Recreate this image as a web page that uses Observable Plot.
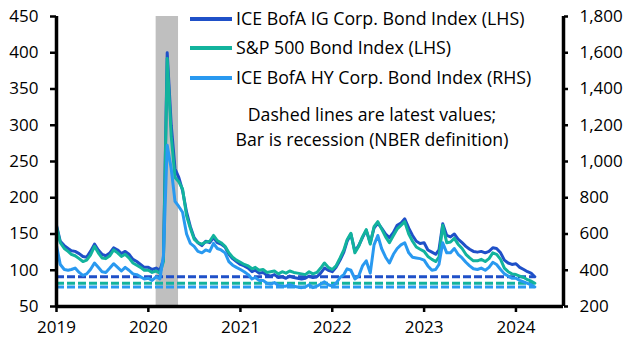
<!DOCTYPE html>
<html><head><meta charset="utf-8">
<script src="https://cdn.jsdelivr.net/npm/d3@7"></script>
<script src="https://cdn.jsdelivr.net/npm/@observablehq/plot@0.6"></script>
<style>
body{margin:0;background:#fff;font-family:"Open Sans",sans-serif;}
#wrap{position:relative;width:628px;height:353px;}
.leg{position:absolute;font-size:17.8px;color:#000;white-space:nowrap;line-height:1;}
.sw{position:absolute;height:4px;width:42px;}
.note{position:absolute;font-size:17.7px;text-align:center;line-height:24.5px;white-space:nowrap;}
</style></head>
<body><div id="wrap"></div>
<script>
const seriesNames = ["ICE BofA IG Corp. Bond Index (LHS)", "S&P 500 Bond Index (LHS)", "ICE BofA HY Corp. Bond Index (RHS)"];
const colors = ["#1f50c8", "#12b39d", "#2999f0"];
// semi-monthly observations (1st and 16th of each month), Jan 2019 - Mar 2024
const igSpread = [
162,140,134,130,127,126,123,119,118,126,136,128,122,120,124,131,128,123,126,122,115,112,108,104,
104,101,103,100,115,400,300,240,228,210,180,160,145,138,134,140,138,145,138,136,132,122,116,112,
108,106,103,98,100,96,97,93,92,94,90,91,89,92,90,89,88,89,92,90,91,96,103,100,
98,104,114,125,140,150,126,134,145,155,138,158,165,158,150,145,152,162,165,171,158,148,140,137,
138,128,125,122,128,164,148,146,150,143,138,133,129,126,125,126,124,126,131,130,124,114,110,108,
109,104,101,98,96,91];
const spSpread = [
160,138,130,126,122,120,116,112,114,121,133,124,117,116,120,128,124,119,122,117,110,107,104,100,
100,97,99,96,112,392,285,228,222,212,175,158,143,138,136,139,140,148,141,138,133,124,118,114,
111,108,106,102,104,100,101,97,98,99,95,98,96,99,97,96,95,94,98,95,97,103,110,104,
101,106,117,128,142,151,124,133,146,156,136,160,167,157,146,138,148,157,162,167,150,140,132,129,
126,119,115,112,118,162,138,139,144,136,130,122,117,113,113,115,112,116,124,122,115,103,98,95,
94,92,90,87,85,82];
const hySpread = [
536,432,404,400,404,412,388,372,380,404,440,416,392,388,412,436,416,396,416,400,380,376,364,352,
356,344,364,352,480,1090,960,780,752,720,600,548,532,504,496,512,504,548,520,512,496,448,428,416,
404,392,376,352,360,344,344,328,324,332,316,312,312,320,312,308,304,308,320,304,312,324,336,320,
312,328,360,376,408,400,352,368,424,452,384,540,592,520,472,440,488,520,540,552,496,472,468,464,
456,424,400,404,432,552,496,496,520,488,468,444,424,408,404,412,400,416,444,432,404,380,368,356,
356,344,336,328,320,308];
const latest = [91, 82, 308];
const recession = {start: "2020-02-01", end: "2020-04-30"};
const leftTicks = [50,100,150,200,250,300,350,400,450];
const yearTicks = [2019,2020,2021,2022,2023,2024];

const dates = [];
for (let y = 2019; y <= 2024; y++) for (let m = 0; m < 12; m++) for (const d of [1,16]) {
  if (dates.length < igSpread.length) dates.push(new Date(Date.UTC(y, m, d)));
}
const rows = dates.map((date, i) => ({date, ig: igSpread[i], sp: spSpread[i], hy: hySpread[i] / 4}));
const x0 = new Date(Date.UTC(2019,0,1)), x1 = new Date(Date.UTC(2024,6,8));
const lastDate = dates[dates.length-1];
const dashed = latest.map((v,i)=>({v: i===2 ? v/4 : v, c: colors[i]}));

const chart = Plot.plot({
  width: 628, height: 353,
  marginLeft: 56, marginRight: 65, marginTop: 16, marginBottom: 47,
  style: {fontFamily: "Open Sans, sans-serif", fontSize: "16px", color: "#000", background: "#fff"},
  x: {type: "utc", domain: [x0, x1]},
  y: {domain: [50, 450]},
  marks: [
    Plot.rect([recession], {x1: d => new Date(d.start), x2: d => new Date(d.end), fill: "#bfbfbf"}),
    ...dashed.map(d => Plot.ruleY([d], {y: "v", x1: () => x0, x2: () => lastDate, stroke: d.c, strokeWidth: 3, strokeDasharray: "8,3"})),
    Plot.line(rows, {x: "date", y: "ig", stroke: colors[0], strokeWidth: 3}),
    Plot.line(rows, {x: "date", y: "sp", stroke: colors[1], strokeWidth: 3}),
    Plot.line(rows, {x: "date", y: "hy", stroke: colors[2], strokeWidth: 3}),
    Plot.axisY(leftTicks, {anchor: "left", tickSize: 6, tickPadding: 12, strokeWidth: 2.5, label: null, fontSize: 17}),
    Plot.axisY(leftTicks, {anchor: "right", tickSize: 4, tickPadding: 12, strokeWidth: 2.5, label: null, fontSize: 17, tickFormat: d => d3.format(",")(d*4)}),
    Plot.axisX(yearTicks.map(y => new Date(Date.UTC(y,0,1))), {tickSize: 6, tickPadding: 8, strokeWidth: 2.5, label: null, fontSize: 17, tickFormat: d => String(d.getUTCFullYear())}),
    Plot.ruleY([50], {strokeWidth: 3.5}),
    Plot.ruleX([x0, x1], {strokeWidth: 3.5})
  ]
});
const wrap = document.getElementById("wrap");
wrap.appendChild(chart);
const rowsY = [19, 48, 78];
seriesNames.forEach((n,i) => {
  const s = document.createElement("div"); s.className = "sw";
  s.style.left = "190px"; s.style.top = (rowsY[i]-2) + "px"; s.style.background = colors[i];
  wrap.appendChild(s);
  const t = document.createElement("div"); t.className = "leg"; t.textContent = n;
  t.style.left = "236px"; t.style.top = (rowsY[i]-9.5) + "px";
  wrap.appendChild(t);
});
const note = document.createElement("div"); note.className = "note";
note.innerHTML = "Dashed lines are latest values;<br>Bar is recession (NBER definition)";
note.style.left = "222px"; note.style.width = "300px"; note.style.top = "102px";
wrap.appendChild(note);
</script></body></html>
